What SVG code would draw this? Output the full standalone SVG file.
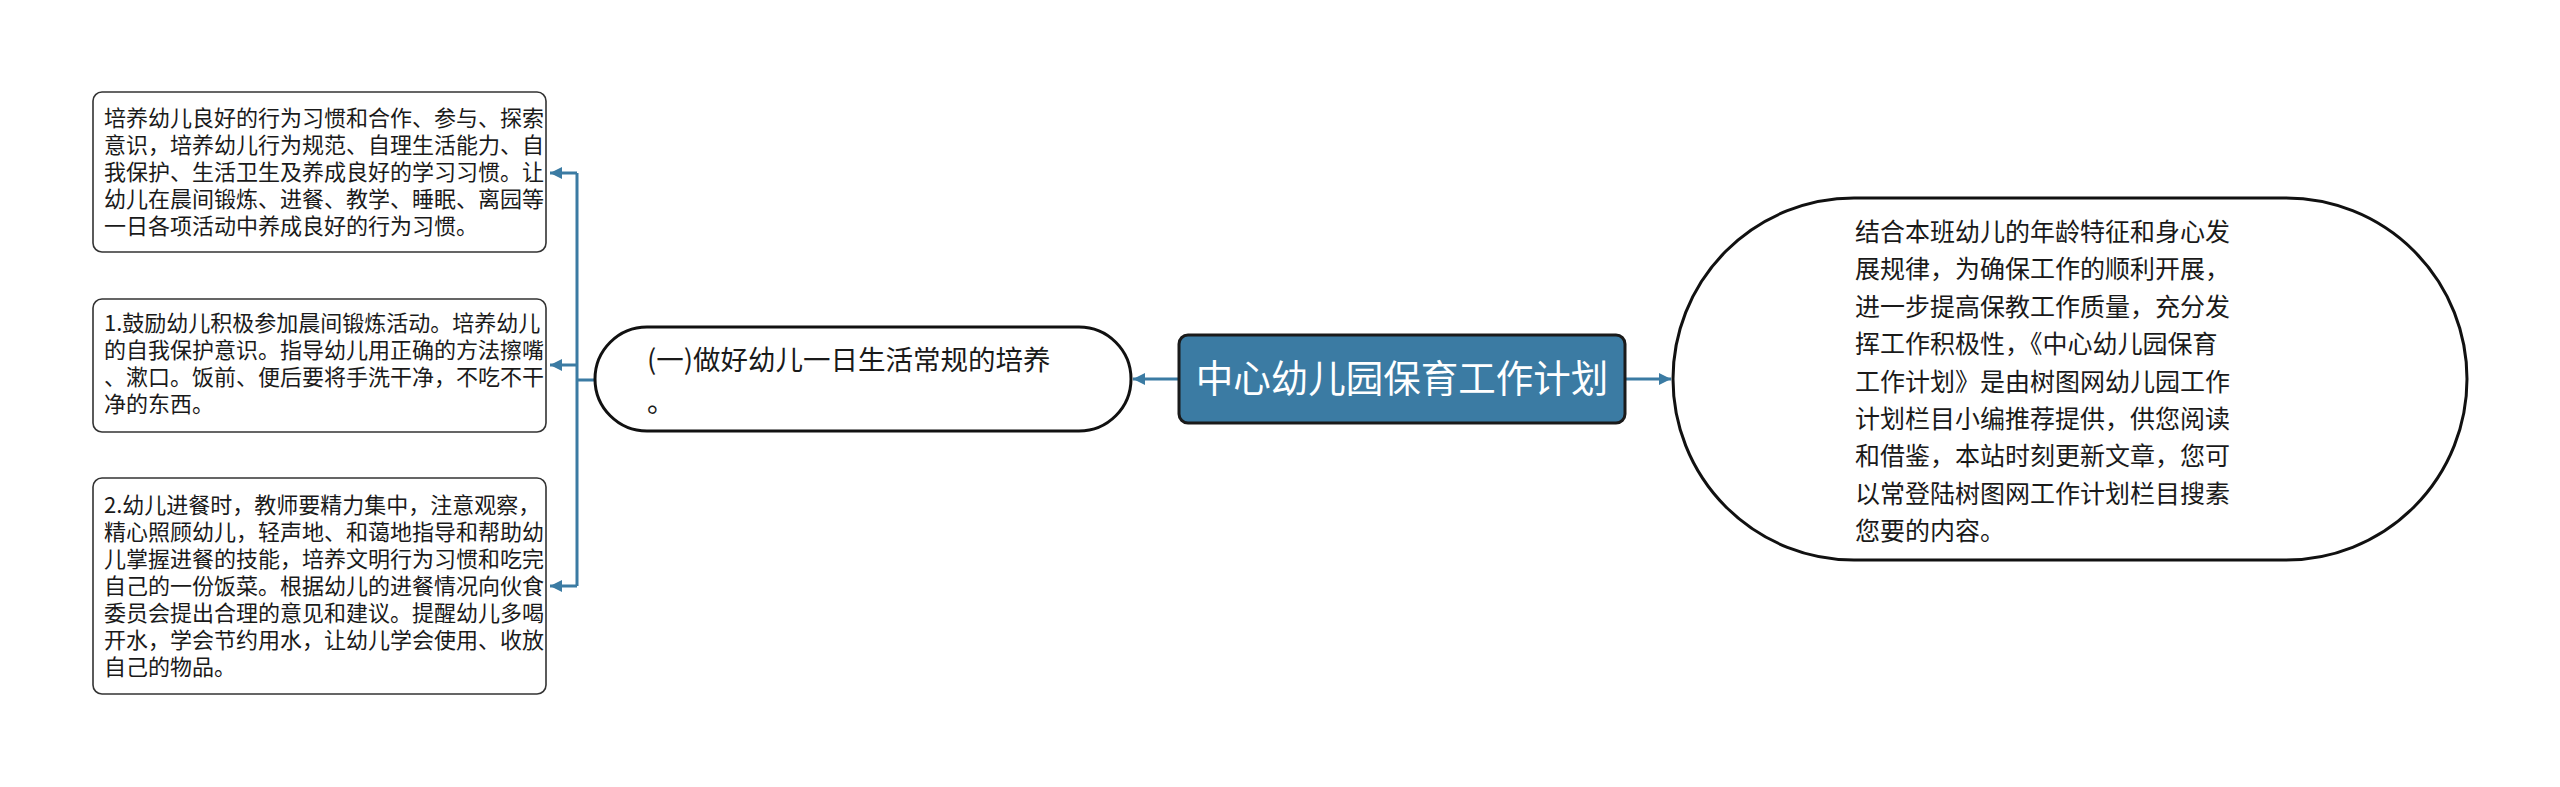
<svg xmlns="http://www.w3.org/2000/svg" width="2560" height="787" viewBox="0 0 2560 787">
<defs>
<style>
.box{fill:#fff;stroke:#333;stroke-width:1.6}
.t{font-family:"Noto Sans CJK SC","Noto Sans",sans-serif;fill:#1a1a1a}
.s{font-size:22px}
.m{font-size:25px}
.c{fill:none;stroke:#3b7ba3;stroke-width:3}
.ca{fill:none;stroke:#3b7ba3;stroke-width:3;marker-end:url(#ah)}
</style>
<marker id="ah" markerUnits="userSpaceOnUse" markerWidth="12" markerHeight="12" refX="12" refY="6" orient="auto">
<path d="M0,0 L12,6 L0,12 z" fill="#3b7ba3"/>
</marker>
</defs>
<rect width="2560" height="787" fill="#fff"/>
<g id="connectors">
<path class="c" d="M595,380 H577 M577,173 V586"/>
<path class="ca" d="M577,173 H550"/>
<path class="ca" d="M577,365 H550"/>
<path class="ca" d="M577,586 H550"/>
<path class="ca" d="M1179,379 H1133"/>
<path class="ca" d="M1625,379 H1671"/>
</g>
<g id="node-box1">
<rect class="box" x="93" y="92" width="453" height="160" rx="9"/>
<text class="t s"><tspan x="104" y="126">培养幼儿良好的行为习惯和合作、参与、探索</tspan><tspan x="104" y="153">意识，培养幼儿行为规范、自理生活能力、自</tspan><tspan x="104" y="180">我保护、生活卫生及养成良好的学习习惯。让</tspan><tspan x="104" y="207">幼儿在晨间锻炼、进餐、教学、睡眠、离园等</tspan><tspan x="104" y="234">一日各项活动中养成良好的行为习惯。</tspan></text>
</g>
<g id="node-box2">
<rect class="box" x="93" y="299" width="453" height="133" rx="9"/>
<text class="t s"><tspan x="104" y="331">1.鼓励幼儿积极参加晨间锻炼活动。培养幼儿</tspan><tspan x="104" y="358">的自我保护意识。指导幼儿用正确的方法擦嘴</tspan><tspan x="104" y="385">、漱口。饭前、便后要将手洗干净，不吃不干</tspan><tspan x="104" y="412">净的东西。</tspan></text>
</g>
<g id="node-box3">
<rect class="box" x="93" y="478" width="453" height="216" rx="9"/>
<text class="t s"><tspan x="104" y="513">2.幼儿进餐时，教师要精力集中，注意观察，</tspan><tspan x="104" y="540">精心照顾幼儿，轻声地、和蔼地指导和帮助幼</tspan><tspan x="104" y="567">儿掌握进餐的技能，培养文明行为习惯和吃完</tspan><tspan x="104" y="594">自己的一份饭菜。根据幼儿的进餐情况向伙食</tspan><tspan x="104" y="621">委员会提出合理的意见和建议。提醒幼儿多喝</tspan><tspan x="104" y="648">开水，学会节约用水，让幼儿学会使用、收放</tspan><tspan x="104" y="675">自己的物品。</tspan></text>
</g>
<g id="node-sub">
<rect x="595" y="327" width="536" height="104" rx="52" fill="#fff" stroke="#111" stroke-width="3"/>
<text class="t" font-size="27.5"><tspan x="647" y="370">(一)做好幼儿一日生活常规的培养</tspan><tspan x="647" y="412">。</tspan></text>
</g>
<g id="node-root">
<rect x="1179" y="335" width="446" height="88" rx="9" fill="#3b7ba3" stroke="#1a1a1a" stroke-width="3"/>
<text x="1402" y="392" text-anchor="middle" font-family="Noto Sans CJK SC, sans-serif" font-size="37.5" fill="#fff">中心幼儿园保育工作计划</text>
</g>
<g id="node-desc">
<rect x="1673" y="198" width="794" height="362" rx="181" fill="#fff" stroke="#111" stroke-width="3"/>
<text class="t m"><tspan x="1855" y="241">结合本班幼儿的年龄特征和身心发</tspan><tspan x="1855" y="278">展规律，为确保工作的顺利开展，</tspan><tspan x="1855" y="316">进一步提高保教工作质量，充分发</tspan><tspan x="1855" y="353">挥工作积极性，《中心幼儿园保育</tspan><tspan x="1855" y="391">工作计划》是由树图网幼儿园工作</tspan><tspan x="1855" y="428">计划栏目小编推荐提供，供您阅读</tspan><tspan x="1855" y="465">和借鉴，本站时刻更新文章，您可</tspan><tspan x="1855" y="503">以常登陆树图网工作计划栏目搜素</tspan><tspan x="1855" y="540">您要的内容。</tspan></text>
</g>
</svg>
